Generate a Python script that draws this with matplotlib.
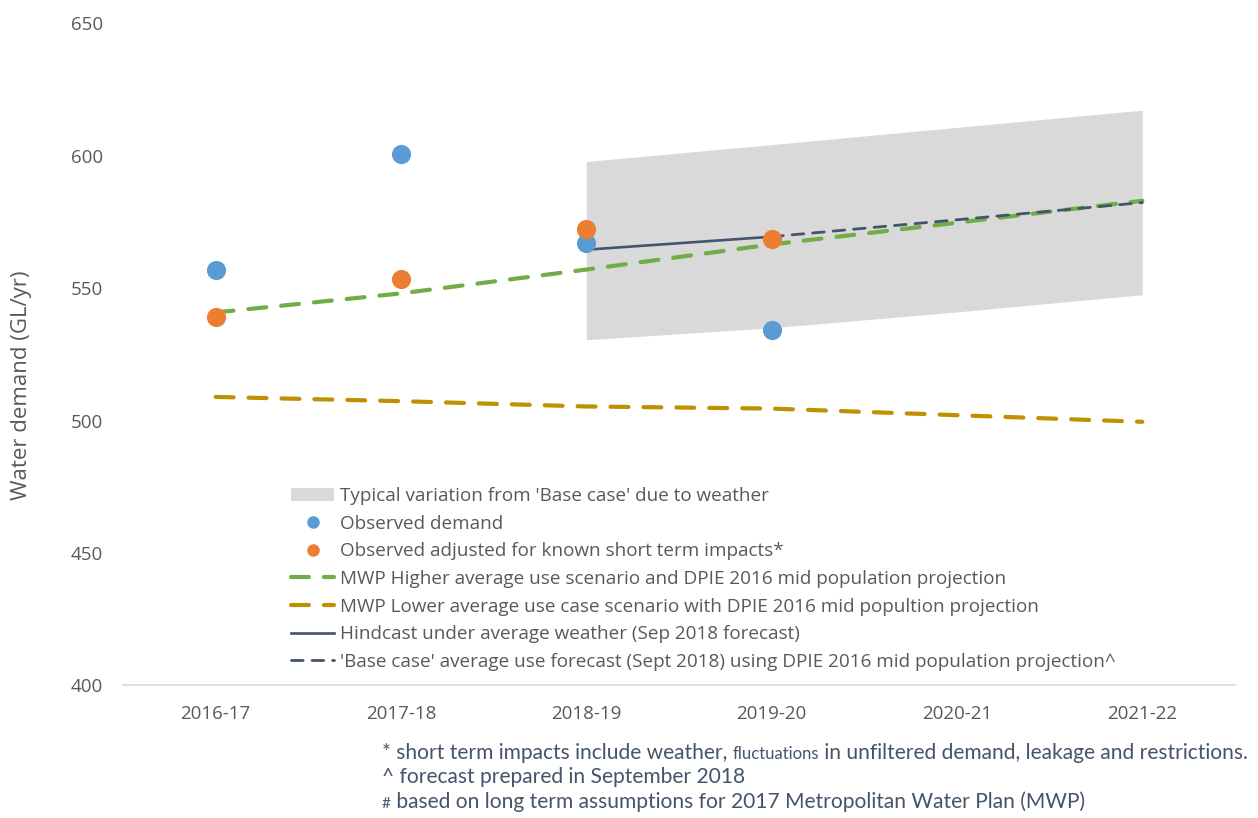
import matplotlib
matplotlib.use("Agg")
import matplotlib.pyplot as plt
from matplotlib.patches import Patch
from matplotlib.lines import Line2D
from matplotlib.offsetbox import TextArea, HPacker, VPacker, AnchoredOffsetbox

# ==========================================================
# DATA
# ==========================================================

years = ["2016-17", "2017-18", "2018-19", "2019-20", "2020-21", "2021-22"]

observed = [556.9, 600.5, 567.2, 534.2]
observed_adj = [538.9, 553.3, 572.5, 568.7]

mwp_higher = [540.8, 548.0, 557.0, 566.5, 574.7, 583.0]
mwp_lower = [508.9, 507.3, 505.3, 504.5, 502.0, 499.5]

hindcast_years = ["2018-19", "2019-20"]
hindcast = [564.5, 569.4]

base_years = ["2019-20", "2020-21", "2021-22"]
base_case = [569.4, 575.8, 582.3]

band_years = ["2018-19", "2019-20", "2020-21", "2021-22"]
band_low = [530.5, 535.0, 541.0, 547.5]
band_high = [597.8, 604.2, 610.7, 617.2]

yticks = [400, 450, 500, 550, 600, 650]

# ==========================================================
# STYLE
# ==========================================================

FONT = ["Open Sans", "DejaVu Sans"]
NOTE_FONT = ["Lato", "DejaVu Sans"]
TXT = "#595959"

C_BLUE = "#5B9BD5"
C_ORANGE = "#ED7D31"
C_GREEN = "#70AD47"
C_GOLD = "#BF9000"
C_NAVY = "#44546A"
C_BAND = "#D9D9D9"

plt.rcParams["font.family"] = FONT

fig = plt.figure(figsize=(12.58, 8.18), dpi=100)
ax = fig.add_axes([123 / 1258, 1 - 685.3 / 818, (1235 - 123) / 1258, (685.3 - 23.3) / 818])

xi = {y: i for i, y in enumerate(years)}
bx = [xi[y] for y in band_years]
hx = [xi[y] for y in hindcast_years]
cx = [xi[y] for y in base_years]

# ==========================================================
# PLOT
# ==========================================================

ax.fill_between(bx, band_low, band_high, color=C_BAND, lw=0, zorder=1)

ax.plot(range(len(years)), mwp_higher, color=C_GREEN, lw=3,
        dashes=(4.3, 3.6), dash_capstyle="round", zorder=3)
ax.plot(range(len(years)), mwp_lower, color=C_GOLD, lw=3,
        dashes=(4.3, 3.6), dash_capstyle="round", zorder=3)

ax.plot(hx, hindcast, color=C_NAVY, lw=1.9, zorder=4)
ax.plot(cx, base_case, color=C_NAVY, lw=2.0,
        dashes=(4.2, 3.2), dash_capstyle="round", zorder=4)

ax.scatter(range(len(observed)), observed, s=190, color=C_BLUE, lw=0, zorder=5)
ax.scatter(range(len(observed_adj)), observed_adj, s=190, color=C_ORANGE, lw=0, zorder=6)

# ==========================================================
# AXES
# ==========================================================

ax.set_xlim(-0.5, len(years) - 0.5)
ax.set_ylim(400, 650)
ax.set_xticks(range(len(years)))
ax.set_xticklabels(years)
ax.set_yticks(yticks)

for s in ["top", "right", "left"]:
    ax.spines[s].set_visible(False)
ax.spines["bottom"].set_color(C_BAND)
ax.spines["bottom"].set_linewidth(1.2)

ax.tick_params(axis="both", length=0, labelsize=13.5, labelcolor=TXT)
ax.tick_params(axis="y", pad=14.5)
ax.tick_params(axis="x", pad=14)

fig.text(22 / 1258, 1 - 385 / 818, "Water demand (GL/yr)", rotation=90,
         ha="center", va="center", fontsize=16, color=TXT)

# ==========================================================
# LEGEND
# ==========================================================

handles = [
    Patch(facecolor=C_BAND, edgecolor="none"),
    Line2D([], [], ls="none", marker="o", ms=9, color=C_BLUE, mec="none"),
    Line2D([], [], ls="none", marker="o", ms=9, color=C_ORANGE, mec="none"),
    Line2D([], [], color=C_GREEN, lw=3, dashes=(4.3, 3.6), dash_capstyle="round"),
    Line2D([], [], color=C_GOLD, lw=3, dashes=(4.3, 3.6), dash_capstyle="round"),
    Line2D([], [], color=C_NAVY, lw=1.9),
    Line2D([], [], color=C_NAVY, lw=2.0, dashes=(4.2, 3.2), dash_capstyle="round"),
]
labels = [
    "Typical variation from 'Base case' due to weather",
    "Observed demand",
    "Observed adjusted for known short term impacts*",
    "MWP Higher average use scenario and DPIE 2016 mid population projection",
    "MWP Lower average use case scenario with DPIE 2016 mid popultion projection",
    "Hindcast under average weather (Sep 2018 forecast)",
    "'Base case' average use forecast (Sept 2018) using DPIE 2016 mid population projection^",
]

leg = ax.legend(handles, labels, loc="upper left",
                bbox_to_anchor=(291 / 1258, 1 - 487 / 818),
                bbox_transform=fig.transFigure, frameon=False,
                fontsize=13.6, handlelength=2.3, handleheight=0.7,
                handletextpad=0.3, labelspacing=0.51, borderaxespad=0,
                borderpad=0)
for t in leg.get_texts():
    t.set_color(TXT)

# ==========================================================
# FOOTNOTES
# ==========================================================

NOTE_C = "#44546A"


def note(text, size=15.1):
    return TextArea(text, textprops=dict(fontsize=size, color=NOTE_C, family=NOTE_FONT))


line1 = HPacker(children=[
    note("* short term impacts include weather, "),
    note("fluctuations", 12),
    note(" in unfiltered demand, leakage and restrictions."),
], align="baseline", pad=0, sep=0)
line2 = HPacker(children=[note("^ forecast prepared in September 2018")], pad=0, sep=0)
line3 = HPacker(children=[
    note("#", 11),
    note(" based on long term assumptions for 2017 Metropolitan Water Plan (MWP)"),
], align="baseline", pad=0, sep=0)

notes = VPacker(children=[line1, line2, line3], align="left", pad=0, sep=3)
box = AnchoredOffsetbox(loc="upper left", child=notes, frameon=False, pad=0,
                        borderpad=0, bbox_to_anchor=(382 / 1258, 1 - 743 / 818),
                        bbox_transform=fig.transFigure)
fig.add_artist(box)

fig.savefig("out.png", dpi=100)
plt.close(fig)
